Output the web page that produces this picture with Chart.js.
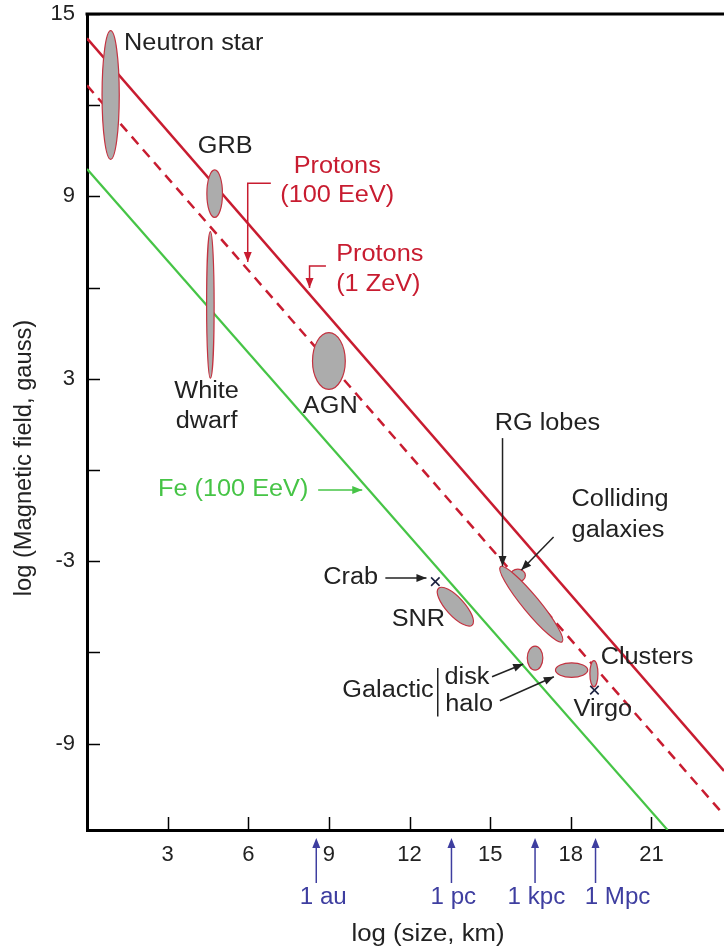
<!DOCTYPE html>
<html>
<head>
<meta charset="utf-8">
<script src="https://cdn.jsdelivr.net/npm/chart.js@4.4.1/dist/chart.umd.min.js"></script>
<style>
  body { margin: 0; background: #fff; }
  canvas { display: block; }
</style>
</head>
<body>
<canvas id="hillas" width="724" height="948"></canvas>
<script>
// Axis ticks
var xTicks = [3, 6, 9, 12, 15, 18, 21];
var yTicks = [-9, -6, -3, 0, 3, 6, 9, 12, 15];
var yLabelled = [-9, -3, 3, 9, 15];

// Hillas lines: [log size at start, log size at end], [log B at start, log B at end]
var protonZevX = [0, 23.7];
var protonZevY = [14.2, -9.9];
var proton100X = [0, 23.7];
var proton100Y = [12.65, -11.35];
var ironX = [0, 21.6];
var ironY = [9.9, -11.84];

// Sources: long axis from (x1,y1) to (x2,y2), half width in log size units
var srcName = ["Neutron star", "GRB", "White dwarf", "AGN", "SNR", "Colliding galaxies", "RG lobes", "Galactic disk", "Galactic halo", "Clusters"];
var srcX1 = [0.88, 4.75, 4.59, 9.0, 13.08, 16.03, 15.38, 16.67, 17.43, 18.86];
var srcY1 = [14.45, 9.87, 7.84, 4.52, -3.89, -3.26, -3.18, -5.79, -6.58, -6.27];
var srcX2 = [0.88, 4.75, 4.59, 9.0, 14.33, 16.03, 17.68, 16.67, 18.63, 18.86];
var srcY2 = [10.22, 8.31, 3.02, 2.65, -5.10, -3.68, -5.65, -6.58, -6.58, -7.13];
var srcW = [0.32, 0.29, 0.14, 0.61, 0.34, 0.28, 0.31, 0.29, 0.27, 0.15];

// Single objects (x markers)
var pointName = ["Crab", "Virgo"];
var pointX = [12.96, 18.88];
var pointY = [-3.67, -7.24];

// Distance units under the size axis
var unitName = ["1 au", "1 pc", "1 kpc", "1 Mpc"];
var unitX = [8.53, 13.56, 16.67, 18.92];
var unitLabelX = [8.79, 13.63, 16.72, 19.74];

var RED = "rgb(200,28,48)";
var GREEN = "rgb(70,196,70)";
var BLUE = "rgb(62,62,160)";
var INK = "#222";
var FONT = "'Liberation Sans', Arial, sans-serif";

// Text labels in data coordinates
var notes = [
  { t: "Neutron star", x: 1.38, y: 14.01, a: "left" },
  { t: "GRB", x: 5.14, y: 10.63, a: "center" },
  { t: "Protons", x: 9.31, y: 9.97, a: "center", c: RED },
  { t: "(100 EeV)", x: 9.31, y: 9.01, a: "center", c: RED },
  { t: "Protons", x: 9.27, y: 7.07, a: "left", c: RED },
  { t: "(1 ZeV)", x: 9.27, y: 6.09, a: "left", c: RED },
  { t: "White", x: 4.45, y: 2.57, a: "center" },
  { t: "dwarf", x: 4.45, y: 1.59, a: "center" },
  { t: "AGN", x: 9.05, y: 2.07, a: "center" },
  { t: "RG lobes", x: 17.13, y: 1.51, a: "center" },
  { t: "Colliding", x: 18.03, y: -0.99, a: "left" },
  { t: "galaxies", x: 18.03, y: -2.01, a: "left" },
  { t: "Crab", x: 8.79, y: -3.55, a: "left" },
  { t: "SNR", x: 12.33, y: -4.93, a: "center" },
  { t: "Clusters", x: 19.11, y: -6.18, a: "left" },
  { t: "Virgo", x: 18.1, y: -7.89, a: "left" },
  { t: "Galactic", x: 9.5, y: -7.27, a: "left" },
  { t: "disk", x: 13.3, y: -6.84, a: "left" },
  { t: "halo", x: 13.33, y: -7.73, a: "left" },
  { t: "Fe (100 EeV)", x: 2.64, y: -0.66, a: "left", c: GREEN }
];

// Arrows (polylines, head at the last point)
var arrows = [
  { p: [[6.84, 9.43], [5.98, 9.43], [5.98, 6.84]], c: RED },
  { p: [[8.89, 6.71], [8.28, 6.71], [8.28, 5.99]], c: RED },
  { p: [[15.46, 1.05], [15.46, -3.16]], c: INK },
  { p: [[17.36, -2.2], [16.16, -3.29]], c: INK },
  { p: [[11.1, -3.55], [12.63, -3.55]], c: INK },
  { p: [[15.07, -6.8], [16.23, -6.38]], c: INK },
  { p: [[15.36, -7.59], [17.37, -6.8]], c: INK },
  { p: [[8.6, -0.66], [10.24, -0.66]], c: GREEN },
  { p: [[13.05, -6.51], [13.05, -8.11]], c: INK, noHead: true }
];

function pairs(xs, ys) {
  return xs.map(function (v, i) { return { x: v, y: ys[i] }; });
}

function arrowHead(ctx, x0, y0, x1, y1, len, half) {
  var ang = Math.atan2(y1 - y0, x1 - x0);
  ctx.save();
  ctx.translate(x1, y1);
  ctx.rotate(ang);
  ctx.beginPath();
  ctx.moveTo(0, 0);
  ctx.lineTo(-len, -half);
  ctx.lineTo(-len, half);
  ctx.closePath();
  ctx.fill();
  ctx.restore();
}

// the figure's lettering is a little wider than Liberation Sans
function wideText(ctx, text, x, y, align, stretch, angle) {
  ctx.save();
  ctx.translate(x, y);
  if (angle) ctx.rotate(angle);
  ctx.scale(stretch, 1);
  ctx.textAlign = align;
  ctx.fillText(text, 0, 0);
  ctx.restore();
}

// no extra padding from the scales, so the plot box sits where the figure has it
function noPad(s) {
  s.paddingTop = 0;
  s.paddingBottom = 0;
  s.paddingLeft = 0;
  s.paddingRight = 0;
}

var hillasPlugin = {
  id: "hillas",
  afterDatasetDraw: function (chart, args) {
    if (args.index !== 1) return;
    var ctx = chart.ctx, xs = chart.scales.x, ys = chart.scales.y;
    var unit = xs.getPixelForValue(1) - xs.getPixelForValue(0);
    ctx.save();
    for (var i = 0; i < srcName.length; i++) {
      var ax = xs.getPixelForValue(srcX1[i]), ay = ys.getPixelForValue(srcY1[i]);
      var bx = xs.getPixelForValue(srcX2[i]), by = ys.getPixelForValue(srcY2[i]);
      var cx = (ax + bx) / 2, cy = (ay + by) / 2;
      var half = Math.hypot(bx - ax, by - ay) / 2;
      var w = srcW[i] * unit;
      var rot = Math.atan2(by - ay, bx - ax);
      ctx.beginPath();
      ctx.ellipse(cx, cy, half, w, rot, 0, Math.PI * 2);
      ctx.fillStyle = "rgb(172,172,172)";
      ctx.fill();
      ctx.lineWidth = 1.2;
      ctx.strokeStyle = "rgb(196,50,64)";
      ctx.stroke();
    }
    ctx.restore();
  },
  afterDraw: function (chart) {
    var ctx = chart.ctx, xs = chart.scales.x, ys = chart.scales.y, area = chart.chartArea;
    ctx.save();
    // frame top line
    ctx.strokeStyle = "#000";
    ctx.lineWidth = 3;
    ctx.beginPath();
    ctx.moveTo(area.left - 1.5, area.top);
    ctx.lineTo(area.right, area.top);
    ctx.stroke();

    // inner tick marks
    ctx.lineWidth = 1.5;
    xTicks.forEach(function (v) {
      var px = Math.round(xs.getPixelForValue(v)) + 0.5;
      ctx.beginPath();
      ctx.moveTo(px, area.bottom);
      ctx.lineTo(px, area.bottom - 13);
      ctx.stroke();
    });
    yTicks.forEach(function (v) {
      var py = Math.round(ys.getPixelForValue(v)) + 0.5;
      ctx.beginPath();
      ctx.moveTo(area.left, py);
      ctx.lineTo(area.left + 13, py);
      ctx.stroke();
    });

    // arrows
    arrows.forEach(function (ar) {
      var pts = ar.p.map(function (q) { return [xs.getPixelForValue(q[0]), ys.getPixelForValue(q[1])]; });
      ctx.strokeStyle = ar.c;
      ctx.fillStyle = ar.c;
      ctx.lineWidth = 1.5;
      ctx.beginPath();
      ctx.moveTo(pts[0][0], pts[0][1]);
      for (var k = 1; k < pts.length; k++) ctx.lineTo(pts[k][0], pts[k][1]);
      ctx.stroke();
      if (!ar.noHead) {
        var n = pts.length;
        arrowHead(ctx, pts[n - 2][0], pts[n - 2][1], pts[n - 1][0], pts[n - 1][1], 10, 4);
      }
    });

    // text labels
    ctx.font = "23px " + FONT;
    ctx.textBaseline = "middle";
    notes.forEach(function (n) {
      ctx.fillStyle = n.c || INK;
      wideText(ctx, n.t, xs.getPixelForValue(n.x), ys.getPixelForValue(n.y), n.a, 1.1);
    });

    // distance units below the axis
    unitName.forEach(function (name, i) {
      var px = xs.getPixelForValue(unitX[i]);
      ctx.strokeStyle = BLUE;
      ctx.fillStyle = BLUE;
      ctx.lineWidth = 1.5;
      ctx.beginPath();
      ctx.moveTo(px, area.bottom + 53);
      ctx.lineTo(px, area.bottom + 12);
      ctx.stroke();
      arrowHead(ctx, px, area.bottom + 53, px, area.bottom + 8, 10, 4);
      wideText(ctx, name, xs.getPixelForValue(unitLabelX[i]), area.bottom + 68, "center", 1.05);
    });

    // axis titles
    ctx.fillStyle = INK;
    wideText(ctx, "log (size, km)", 428, area.bottom + 105, "center", 1.12);
    wideText(ctx, "log (Magnetic field, gauss)", 25, 458, "center", 1.03, -Math.PI / 2);
    ctx.restore();
  }
};

var ctx = document.getElementById("hillas").getContext("2d");
var chart = new Chart(ctx, {
  type: "scatter",
  data: {
    datasets: [
      {
        label: "Crab, Virgo",
        data: pairs(pointX, pointY),
        pointStyle: "crossRot",
        pointRadius: 6,
        borderColor: "#1c2240",
        borderWidth: 1.6,
        showLine: false
      },
      {
        label: "Protons (1 ZeV)",
        data: pairs(protonZevX, protonZevY),
        showLine: true,
        borderColor: RED,
        borderWidth: 2.5,
        pointRadius: 0
      },
      {
        label: "Protons (100 EeV)",
        data: pairs(proton100X, proton100Y),
        showLine: true,
        borderColor: RED,
        borderWidth: 2.5,
        borderDash: [10, 7],
        pointRadius: 0
      },
      {
        label: "Fe (100 EeV)",
        data: pairs(ironX, ironY),
        showLine: true,
        borderColor: GREEN,
        borderWidth: 2.2,
        pointRadius: 0
      }
    ]
  },
  options: {
    responsive: false,
    animation: false,
    layout: { autoPadding: false, padding: { top: 14, right: 0, left: 0, bottom: 0 } },
    plugins: { legend: { display: false }, tooltip: { enabled: false } },
    scales: {
      x: {
        type: "linear",
        min: 0,
        max: 23.7,
        afterBuildTicks: function (s) { s.ticks = xTicks.map(function (v) { return { value: v }; }); },
        afterFit: function (s) { s.height = 118; noPad(s); },
        grid: { display: false, drawTicks: false },
        border: { color: "#000", width: 3 },
        ticks: { padding: 12, color: INK, font: { family: FONT, size: 22 } }
      },
      y: {
        type: "linear",
        min: -11.84,
        max: 15,
        afterBuildTicks: function (s) { s.ticks = yTicks.map(function (v) { return { value: v }; }); },
        afterFit: function (s) { s.width = 87; noPad(s); },
        grid: { display: false, drawTicks: false },
        border: { color: "#000", width: 3 },
        ticks: {
          padding: 12,
          color: INK,
          font: { family: FONT, size: 22 },
          callback: function (v) { return yLabelled.indexOf(v) >= 0 ? String(v) : ""; }
        }
      }
    }
  },
  plugins: [hillasPlugin]
});
</script>
</body>
</html>
